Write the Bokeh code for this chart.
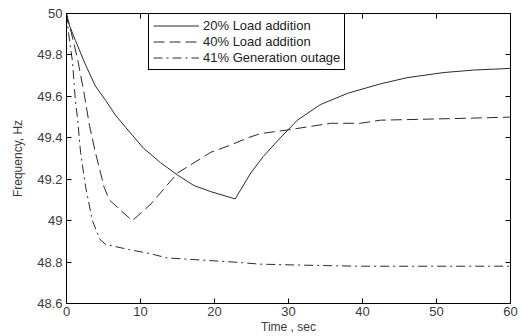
from bokeh.plotting import figure
from bokeh.models import LinearAxis, Legend, LegendItem, FixedTicker, Range1d, CustomJSTickFormatter
from bokeh.embed import file_html
from bokeh.resources import INLINE

# 20% load addition (solid)
t_20 = [0, 0.1, 1.2, 2.6, 3.9, 5.3, 6.6, 8.0, 10.4, 12.7, 15.0, 17.2, 19.5, 22.8, 24.9, 26.6, 28.9, 31.2, 34.3, 38.0, 42.4, 46.0, 51.0, 55.0, 60.0]
f_20 = [50.0, 49.97, 49.87, 49.75, 49.65, 49.58, 49.51, 49.45, 49.35, 49.28, 49.22, 49.17, 49.14, 49.105, 49.23, 49.31, 49.40, 49.485, 49.56, 49.615, 49.66, 49.69, 49.715, 49.727, 49.735]

# 40% load addition (dashed)
t_40 = [0, 0.5, 1.5, 2.4, 3.1, 3.9, 5.1, 5.8, 7.3, 8.9, 11.4, 15.0, 19.5, 22.2, 24.5, 26.2, 30.3, 35.7, 39.7, 42.4, 48.8, 55.0, 60.0]
f_40 = [50.0, 49.93, 49.78, 49.61, 49.46, 49.33, 49.16, 49.10, 49.05, 49.0, 49.08, 49.23, 49.33, 49.365, 49.40, 49.42, 49.44, 49.47, 49.47, 49.485, 49.49, 49.495, 49.50]

# 41% generation outage (dash-dot)
t_41 = [0, 0.3, 0.8, 1.2, 1.5, 1.9, 2.6, 3.5, 4.5, 5.3, 8.5, 11.4, 13.6, 18.1, 22.6, 26.2, 32.0, 39.7, 50.0, 60.0]
f_41 = [50.0, 49.9, 49.77, 49.58, 49.49, 49.33, 49.16, 49.0, 48.91, 48.885, 48.86, 48.84, 48.82, 48.81, 48.80, 48.79, 48.785, 48.78, 48.78, 48.78]

x_ticks = [0, 10, 20, 30, 40, 50, 60]
y_ticks = [48.6, 48.8, 49.0, 49.2, 49.4, 49.6, 49.8, 50.0]
y_labels = {48.6: "48.6", 48.8: "48.8", 49.0: "49", 49.2: "49.2", 49.4: "49.4", 49.6: "49.6", 49.8: "49.8", 50.0: "50"}

FONT = "Liberation Sans"
TXT = "#3a3a3a"

p = figure(width=521, height=336, output_backend="svg", toolbar_location=None,
           x_range=Range1d(0, 60), y_range=Range1d(48.6, 50.0),
           x_axis_label="Time , sec", y_axis_label="Frequency, Hz",
           min_border_left=66, min_border_right=11, min_border_top=13, min_border_bottom=32)
p.xgrid.visible = False
p.ygrid.visible = False
p.outline_line_color = "black"
p.outline_line_width = 1
p.background_fill_color = "white"
p.border_fill_color = "white"

bottom = p.below[0]
left = p.left[0]
bottom.ticker = FixedTicker(ticks=x_ticks)
left.ticker = FixedTicker(ticks=y_ticks)
left.major_label_overrides = y_labels

blank = CustomJSTickFormatter(code="return ''")
top = LinearAxis(ticker=FixedTicker(ticks=x_ticks), formatter=blank, major_label_standoff=0)
right = LinearAxis(ticker=FixedTicker(ticks=y_ticks), formatter=blank, major_label_standoff=0)
p.add_layout(top, "above")
p.add_layout(right, "right")

for ax in [bottom, left, top, right]:
    ax.major_tick_in = 5
    ax.major_tick_out = 0
    ax.minor_tick_in = 0
    ax.minor_tick_out = 0
    ax.axis_line_color = "black"
    ax.major_tick_line_color = "black"
    ax.major_label_text_font = FONT
    ax.major_label_text_font_size = "13px"
    ax.major_label_text_color = TXT
    ax.axis_label_text_font = FONT
    ax.axis_label_text_font_size = "12px"
    ax.axis_label_text_font_style = "normal"
    ax.axis_label_text_color = TXT

bottom.major_label_standoff = 3
bottom.axis_label_standoff = 1
left.major_label_standoff = 4
left.axis_label_standoff = 9

r1 = p.line(t_20, f_20, line_color="#2a2a2a", line_width=1)
r2 = p.line(t_40, f_40, line_color="#2a2a2a", line_width=1, line_dash="11 5")
r3 = p.line(t_41, f_41, line_color="#2a2a2a", line_width=1, line_dash="9 4 2 4")

legend = Legend(items=[LegendItem(label="20% Load addition", renderers=[r1]),
                       LegendItem(label="40% Load addition", renderers=[r2]),
                       LegendItem(label="41% Generation outage", renderers=[r3])],
                location=(82, 233), orientation="vertical",
                border_line_color="black", border_line_width=1, border_line_alpha=1,
                background_fill_color="white", background_fill_alpha=1,
                padding=4, spacing=1, margin=0, glyph_width=46, glyph_height=15,
                label_height=15, label_standoff=4,
                label_text_font=FONT, label_text_font_size="13px", label_text_color="#222222")
p.add_layout(legend, "center")

open("out.html", "w").write(file_html(p, INLINE))
